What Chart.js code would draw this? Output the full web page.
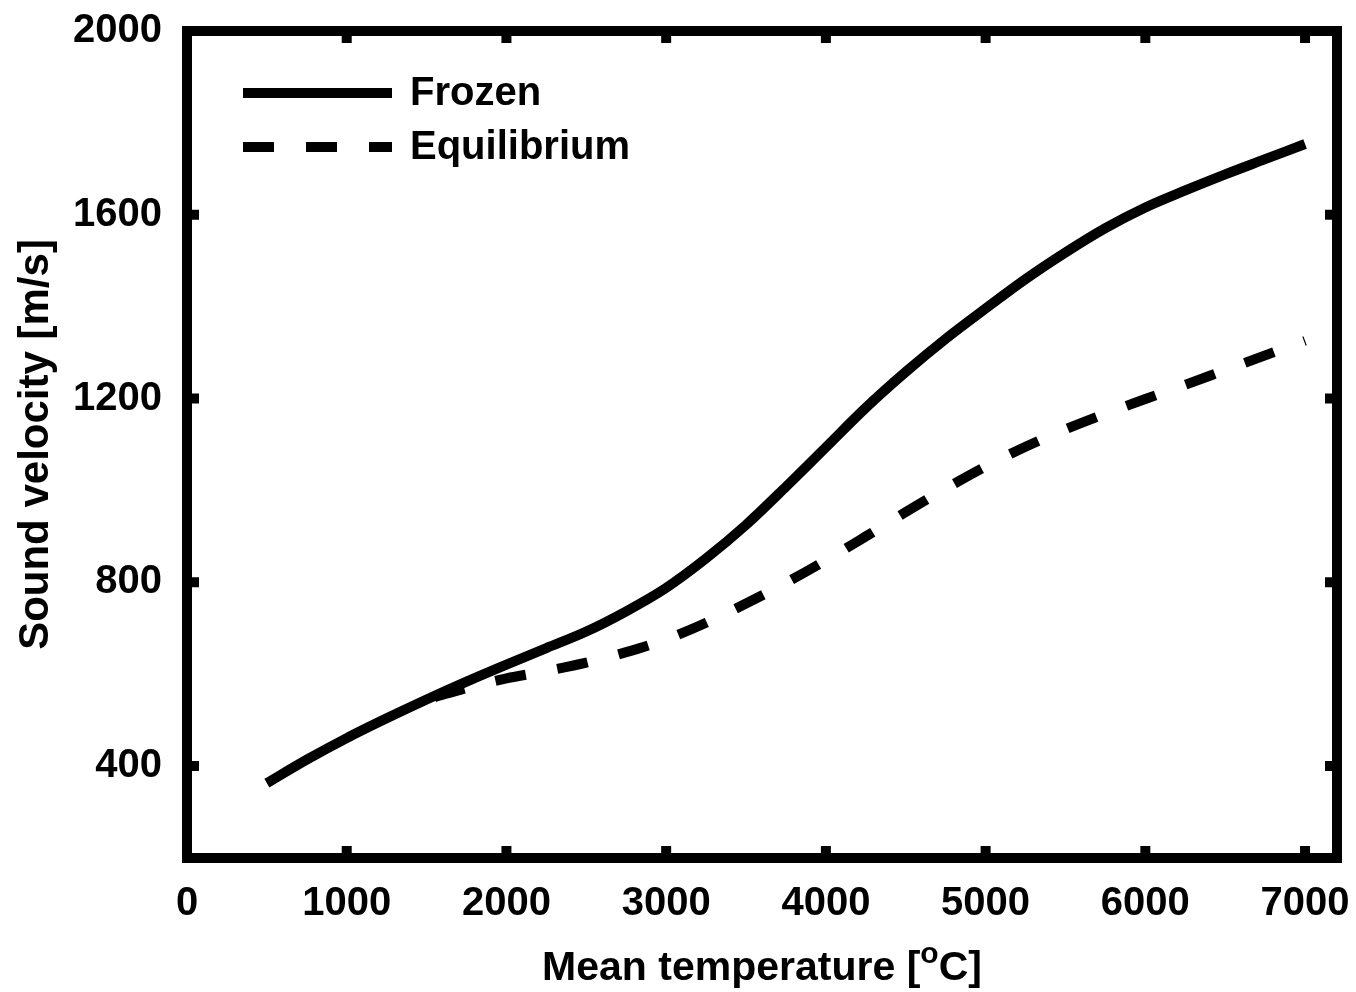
<!DOCTYPE html>
<html>
<head>
<meta charset="utf-8">
<title>Sound velocity vs mean temperature</title>
<script src="https://cdn.jsdelivr.net/npm/chart.js@4.4.1/dist/chart.umd.min.js"></script>
<style>
    html, body { margin: 0; padding: 0; background: #fff; }
    #wrap { width: 1356px; height: 992px; }
</style>
</head>
<body>
<div id="wrap"><canvas id="soundChart" width="1356" height="992"></canvas></div>
<script>
// Data
const frozenTemps = [500, 750, 1000, 1250, 1500, 1750, 2000, 2250, 2500, 2750, 3000, 3250, 3500, 3750,
    4000, 4250, 4500, 4750, 5000, 5250, 5500, 5750, 6000, 6250, 6500, 6750, 7000];
const frozenSpeed = [363, 414, 461, 504, 545, 584, 621, 657, 693, 737, 788, 852, 925, 1008,
    1094, 1180, 1258, 1330, 1396, 1460, 1518, 1571, 1616, 1653, 1688, 1721, 1754];

const equilTemps = [1550, 1750, 2000, 2250, 2500, 2750, 3000, 3250, 3500, 3750, 4000, 4250,
    4500, 4750, 5000, 5250, 5500, 5750, 6000, 6250, 6500, 6750, 7000];
const equilSpeed = [550, 570, 591, 607, 625, 648, 676, 712, 754, 799, 848, 900,
    953, 1004, 1052, 1095, 1133, 1167, 1199, 1230, 1262, 1294, 1326];

const xTicks = [0, 1000, 2000, 3000, 4000, 5000, 6000, 7000];
const yTicks = [400, 800, 1200, 1600, 2000];
const seriesNames = ['Frozen', 'Equilibrium'];

const X_MIN = 0, X_MAX = 7200;
const Y_MIN = 200, Y_MAX = 2000;

const FONT = '"Liberation Sans", Arial, Helvetica, sans-serif';
const DASH = [31, 32];

const toPoints = (xs, ys) => xs.map((x, i) => ({ x: x, y: ys[i] }));

// no label overflow padding, so the plot box sits where the layout padding puts it
const noOverflow = (s) => {
    s.paddingTop = 0;
    s.paddingBottom = 0;
    s.paddingLeft = 0;
    s.paddingRight = 0;
};

// Box, inward ticks on all sides, legend and axis titles
const decorPlugin = {
    id: 'decor',
    afterDraw(chart) {
        const ctx = chart.ctx;
        const area = chart.chartArea;
        const xs = chart.scales.x;
        const ys = chart.scales.y;
        const tickLen = 12;

        ctx.save();
        ctx.strokeStyle = '#000';
        ctx.fillStyle = '#000';
        ctx.lineWidth = 10;
        ctx.lineCap = 'square';
        ctx.strokeRect(area.left, area.top, area.right - area.left, area.bottom - area.top);

        ctx.lineCap = 'butt';
        ctx.beginPath();
        xTicks.forEach(v => {
            const px = xs.getPixelForValue(v);
            ctx.moveTo(px, area.bottom); ctx.lineTo(px, area.bottom - tickLen);
            ctx.moveTo(px, area.top); ctx.lineTo(px, area.top + tickLen);
        });
        yTicks.forEach(v => {
            const py = ys.getPixelForValue(v);
            ctx.moveTo(area.left, py); ctx.lineTo(area.left + tickLen, py);
            ctx.moveTo(area.right, py); ctx.lineTo(area.right - tickLen, py);
        });
        ctx.stroke();

        // legend
        const lx0 = 243, lx1 = 392, ly = [93, 147];
        chart.data.datasets.forEach((ds, i) => {
            ctx.setLineDash(ds.borderDash || []);
            ctx.lineWidth = ds.borderWidth;
            ctx.beginPath();
            ctx.moveTo(lx0, ly[i]);
            ctx.lineTo(lx1, ly[i]);
            ctx.stroke();
            ctx.setLineDash([]);
            ctx.font = 'bold 40px ' + FONT;
            ctx.textAlign = 'left';
            ctx.textBaseline = 'middle';
            ctx.fillText(ds.label, 410, ly[i] + 1);
        });

        // y title
        ctx.save();
        ctx.translate(36, (area.top + area.bottom) / 2);
        ctx.rotate(-Math.PI / 2);
        ctx.font = 'bold 42px ' + FONT;
        ctx.textAlign = 'center';
        ctx.textBaseline = 'middle';
        ctx.fillText('Sound velocity [m/s]', 0, 0);
        ctx.restore();

        // x title with superscript o
        const partA = 'Mean temperature [';
        const partSup = 'o';
        const partB = 'C]';
        const big = 'bold 41px ' + FONT;
        const small = 'bold 30px ' + FONT;
        ctx.font = big;
        const wA = ctx.measureText(partA).width;
        const wB = ctx.measureText(partB).width;
        ctx.font = small;
        const wS = ctx.measureText(partSup).width;
        const cx = (area.left + area.right) / 2;
        let x = cx - (wA + wS + wB) / 2;
        const base = 980;
        ctx.textAlign = 'left';
        ctx.textBaseline = 'alphabetic';
        ctx.font = big;
        ctx.fillText(partA, x, base);
        x += wA;
        ctx.font = small;
        ctx.fillText(partSup, x, base - 17);
        x += wS;
        ctx.font = big;
        ctx.fillText(partB, x, base);
        ctx.restore();
    }
};

const ctx = document.getElementById('soundChart').getContext('2d');

const soundChart = new Chart(ctx, {
    type: 'line',
    data: {
        datasets: [{
            label: seriesNames[0],
            data: toPoints(frozenTemps, frozenSpeed),
            borderColor: '#000',
            borderWidth: 10,
            borderCapStyle: 'butt',
            pointRadius: 0,
            fill: false,
            cubicInterpolationMode: 'monotone'
        }, {
            label: seriesNames[1],
            data: toPoints(equilTemps, equilSpeed),
            borderColor: '#000',
            borderWidth: 10,
            borderDash: DASH,
            borderCapStyle: 'butt',
            pointRadius: 0,
            fill: false,
            cubicInterpolationMode: 'monotone'
        }]
    },
    options: {
        responsive: false,
        animation: false,
        layout: { padding: { top: 31, right: 19, left: 0, bottom: 0 } },
        plugins: {
            legend: { display: false },
            tooltip: { enabled: false }
        },
        scales: {
            x: {
                type: 'linear',
                min: X_MIN,
                max: X_MAX,
                grid: { display: false },
                border: { display: false },
                afterBuildTicks: s => { s.ticks = xTicks.map(v => ({ value: v })); },
                afterFit: s => { s.height = 134; noOverflow(s); },
                ticks: {
                    font: { family: FONT, size: 40, weight: 'bold' },
                    color: '#000',
                    padding: 14,
                    maxRotation: 0,
                    autoSkip: false,
                    callback: v => String(v)
                }
            },
            y: {
                type: 'linear',
                min: Y_MIN,
                max: Y_MAX,
                grid: { display: false },
                border: { display: false },
                afterBuildTicks: s => { s.ticks = yTicks.map(v => ({ value: v })); },
                afterFit: s => { s.width = 187; noOverflow(s); },
                ticks: {
                    font: { family: FONT, size: 40, weight: 'bold' },
                    color: '#000',
                    padding: 17,
                    autoSkip: false,
                    callback: v => String(v)
                }
            }
        }
    },
    plugins: [decorPlugin]
});
</script>
</body>
</html>
